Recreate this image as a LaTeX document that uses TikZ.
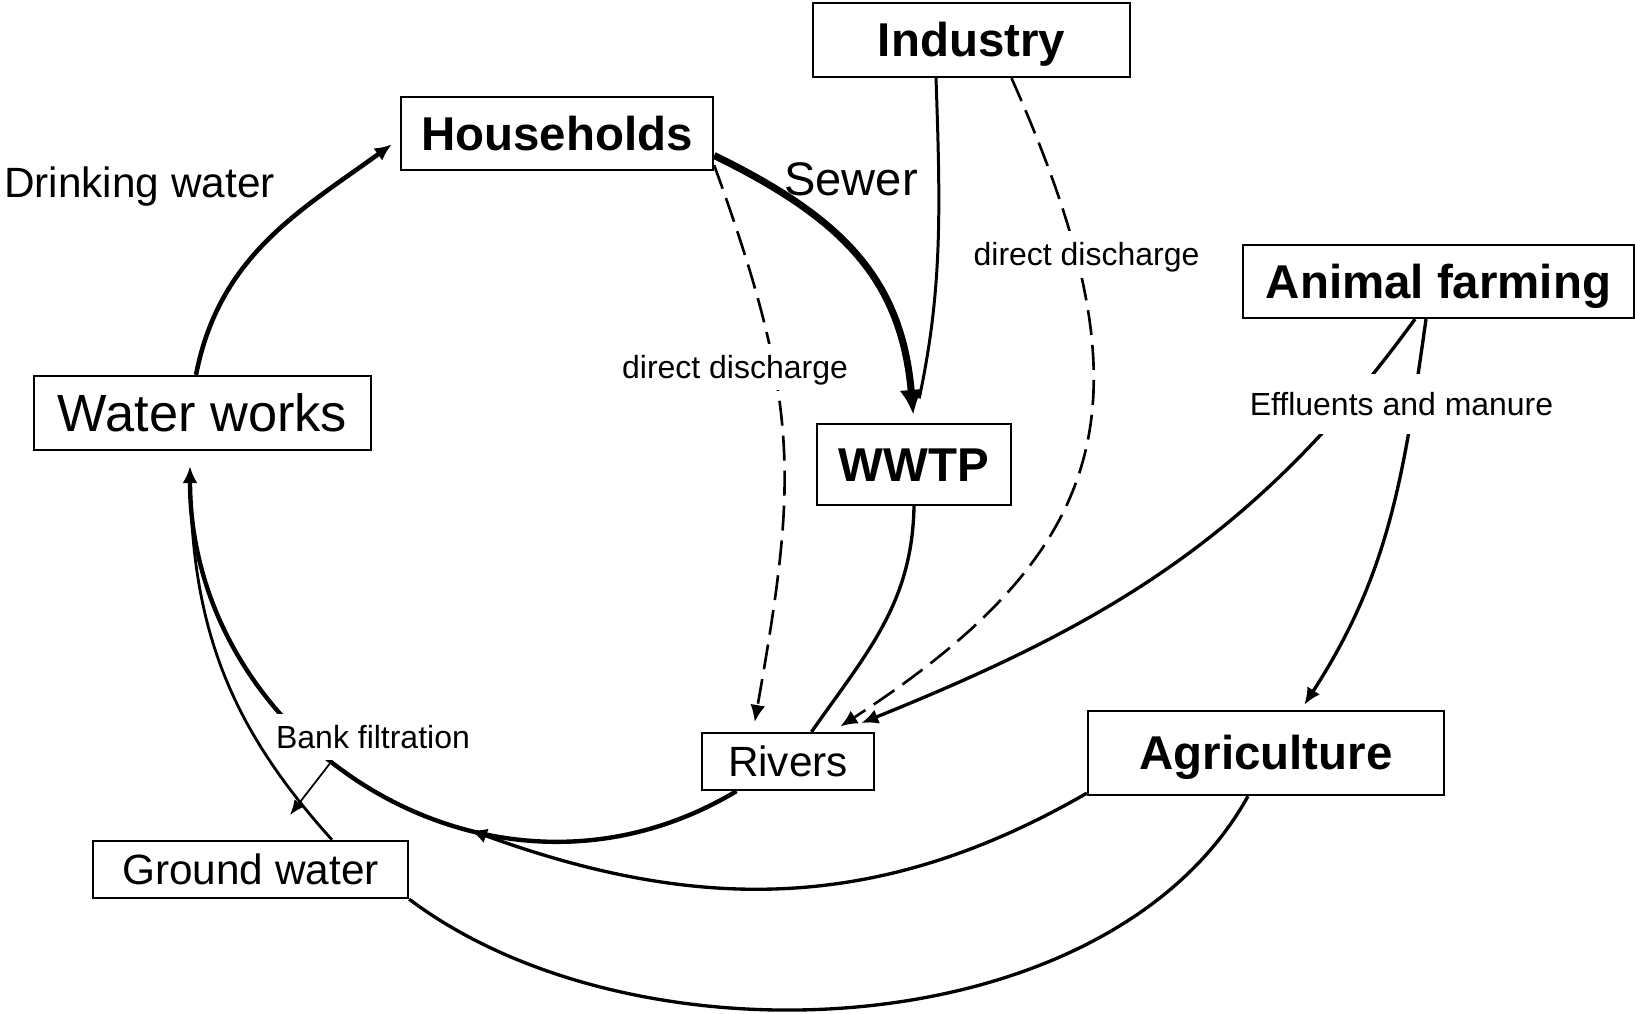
\documentclass[tikz,border=0pt]{standalone}
\usepackage{fontspec}
\setmainfont{Liberation Sans}
\usetikzlibrary{arrows.meta}

\begin{document}
\begin{tikzpicture}[
  x=1cm, y=1cm,
  every node/.style={inner sep=1pt},
  box/.style={draw, line width=1.3pt, inner sep=0pt, text depth=0pt},
  major/.style={box, font=\fontsize{27}{30}\selectfont\bfseries, text height=19.3pt},
  minor/.style={box, font=\fontsize{24.1}{28}\selectfont, text height=17.3pt},
  lbl/.style={fill=white, inner xsep=0.1cm, inner ysep=0.24cm, font=\fontsize{18.2}{21}\selectfont, text height=13pt, text depth=0pt},
  flow/.style={line width=1.9pt},
  arrowed/.style={-{Latex[length=0.34cm, width=0.3cm]}, shorten >=0.2cm},
  dashflow/.style={flow, line width=1.5pt, dash pattern=on 0.5cm off 0.2cm, arrowed}]

  \useasboundingbox (0,0) rectangle (32.7,20.26);

  %% ---------------- boxes ----------------
  \node[major, minimum width=6.24cm, minimum height=1.46cm] (hh)   at (11.14, 17.59) {Households};
  \node[major, minimum width=6.34cm, minimum height=1.48cm] (ind)  at (19.43, 19.46) {Industry};
  \node[box, font=\fontsize{29.8}{33}\selectfont, text height=21.3pt,
        minimum width=6.74cm, minimum height=1.48cm]          (ww)   at (4.05, 12.00) {Water works};
  \node[major, minimum width=3.88cm, minimum height=1.62cm] (wwtp) at (18.28, 10.97) {WWTP};
  \node[major, minimum width=7.82cm, minimum height=1.46cm] (af)   at (28.77, 14.63) {Animal farming};
  \node[minor, minimum width=3.44cm, minimum height=1.14cm] (riv)  at (15.76, 5.03) {Rivers};
  \node[major, minimum width=7.12cm, minimum height=1.68cm] (agr)  at (25.32, 5.20) {Agriculture};
  \node[minor, minimum width=6.30cm, minimum height=1.14cm] (gw)   at (5.01, 2.87) {Ground water};

  %% ---------------- plain labels ----------------
  \node[font=\fontsize{24.1}{28}\selectfont, text height=17.3pt, text depth=0pt] (dwl) at (2.79, 16.62) {Drinking water};
  \node[font=\fontsize{26.8}{30}\selectfont, text height=19.2pt, text depth=0pt] (swl) at (17.02, 16.69) {Sewer};

  %% ---------------- the water cycle ----------------
  % drinking water and sewer
  \draw[flow, line width=2.6pt, arrowed] ([xshift=-0.13cm]ww.north) to[out=79, in=216] ([yshift=-0.1cm]hh.west);
  \draw[flow, line width=4pt, -{Latex[length=0.5cm, width=0.46cm]}, shorten >=0.16cm]
    ([yshift=-0.44cm]hh.east) to[out=-26, in=95, looseness=1.1] (wwtp.north);
  \draw[flow, line width=1.7pt, shorten >=0.5cm] ([xshift=-0.71cm]ind.south) to[out=-88, in=78] (wwtp.north);
  % direct discharges
  \draw[dashflow] ([yshift=0.12cm]hh.south east) to[out=-70, in=80, looseness=1.15] ([xshift=-0.7cm]riv.north);
  \draw[dashflow] ([xshift=0.8cm]ind.south) to[out=-66, in=33, looseness=1.3] ([xshift=0.88cm]riv.north);
  % effluents and manure
  \draw[flow, arrowed] ([xshift=-0.47cm]af.south) to[out=-126, in=22] ([xshift=1.28cm, yshift=0.1cm]riv.north);
  \draw[flow, arrowed, shorten >=0.12cm] ([xshift=-0.25cm]af.south) to[out=-98, in=57] ([xshift=0.7cm]agr.north);
  % treated water to the rivers
  \draw[flow] (wwtp.south) to[out=-91, in=55] ([xshift=0.47cm]riv.north);
  % back to the water works: from the rivers and from the ground water
  \draw[flow, line width=2.5pt, arrowed, shorten >=0.3cm]
    ([xshift=-1.03cm]riv.south) .. controls +(-4.94,-2.96) and +(0,-5.8) .. ([xshift=-0.25cm]ww.south);
  \draw[flow, line width=1.6pt, shorten >=0.6cm]
    ([xshift=1.63cm]gw.north) .. controls +(-2.0,2.22) and +(0.04,-3.6) .. ([xshift=-0.25cm]ww.south);
  % run-off from agriculture
  \coordinate (bend) at (9.40, 3.66);
  \draw[flow, arrowed, shorten >=0pt] ([yshift=0.06cm]agr.south west) to[out=-150, in=-20] (bend);
  \draw[flow] ([xshift=-0.36cm]agr.south) to[out=-119, in=-37, looseness=0.87] (gw.south east);

  %% ---------------- labels on the connectors ----------------
  \node[lbl] (ddh) at (14.70, 12.92) {direct discharge};
  \node[lbl] (ddi) at (21.73, 15.17) {direct discharge};
  \node[lbl, inner ysep=0.37cm] (efm) at (28.03, 12.18) {Effluents and manure};
  \node[lbl] (bf) at (7.46, 5.52) {Bank filtration};
  % bank filtration seeps into the ground water
  \coordinate (seep) at (5.80, 3.96);
  \draw[flow, line width=1pt, -{Latex[length=0.3cm, width=0.24cm]}] ([xshift=-0.82cm]bf.south) -- (seep);

\end{tikzpicture}
\end{document}
